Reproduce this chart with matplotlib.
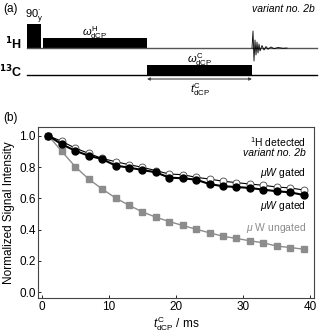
import numpy as np
import matplotlib
matplotlib.use("Agg")
import matplotlib.pyplot as plt
from matplotlib.patches import Rectangle

plt.rcParams['font.family'] = ['Liberation Sans', 'DejaVu Sans']
plt.rcParams['mathtext.fontset'] = 'custom'
plt.rcParams['mathtext.rm'] = 'Liberation Sans'
plt.rcParams['mathtext.it'] = 'Liberation Sans:italic'

# dCP time points / ms
t_dcp = [1, 3, 5, 7, 9, 11, 13, 15, 17, 19, 21, 23, 25, 27, 29, 31, 33, 35, 37, 39]
gated_open = [1.0, 0.964, 0.921, 0.887, 0.855, 0.834, 0.815, 0.798, 0.777, 0.755,
              0.751, 0.734, 0.723, 0.709, 0.700, 0.691, 0.683, 0.672, 0.666, 0.653]
gated_filled = [1.0, 0.945, 0.904, 0.872, 0.851, 0.809, 0.796, 0.781, 0.766, 0.732,
                0.728, 0.719, 0.691, 0.677, 0.672, 0.666, 0.655, 0.645, 0.638, 0.621]
ungated = [1.0, 0.90, 0.802, 0.723, 0.660, 0.602, 0.555, 0.513, 0.479, 0.451,
           0.426, 0.402, 0.379, 0.357, 0.343, 0.328, 0.315, 0.294, 0.285, 0.274]

x_ticks = [0, 10, 20, 30, 40]
y_ticks = [0.0, 0.2, 0.4, 0.6, 0.8, 1.0]

# pulse sequence (schematic units, same scale as picture width)
h_line = 48
c_line = 75
pulse90 = (27, 41, 24)       # start, end, top
h_cp = (43, 147, 38)
c_cp = (147, 252, 65)
fid_x = [252, 253, 254, 255, 256, 257, 258, 259, 260, 262, 264, 266, 268, 271, 274, 278, 283, 287]
fid_y = [0, -17, 13, -8, 7, -6, 5, -4, 3, -2.5, 2, -1.5, 1.2, -1, 0.7, -0.5, 0.3, 0]

fig = plt.figure(figsize=(3.2, 3.35), dpi=100)

# ---- (a) pulse sequence
axa = fig.add_axes([0, 1 - 110 / 335, 1, 110 / 335])
axa.set_xlim(0, 320)
axa.set_ylim(110, 0)
axa.axis('off')

axa.plot([27, 317], [h_line, h_line], color='#555555', lw=1.0)
axa.plot([27, 317], [c_line, c_line], color='black', lw=1.0)
for (x0, x1, top), base in [(pulse90, h_line), (h_cp, h_line), (c_cp, c_line)]:
    axa.add_patch(Rectangle((x0, top), x1 - x0, base - top, color='black', lw=0))
axa.plot(fid_x, np.array(fid_y) + h_line, color='black', lw=0.6)
axa.annotate('', xy=(c_cp[0], 79), xytext=(c_cp[1], 79),
             arrowprops=dict(arrowstyle='<|-|>', color='#444444', lw=0.8,
                             mutation_scale=4, shrinkA=0, shrinkB=0))

axa.text(3, 9, '(a)', fontsize=8.5, va='center', ha='left')
axa.text(315, 9, 'variant no. 2b', fontsize=7.5, style='italic', va='center', ha='right')
axa.text(34, 16, r'90$_{\mathrm{y}}^{\bullet}$', fontsize=8, va='center', ha='center')
axa.text(22, 44, r'$^{\mathbf{1}}$H', fontsize=9, fontweight='bold', va='center', ha='right')
axa.text(22, 72, r'$^{\mathbf{13}}$C', fontsize=9, fontweight='bold', va='center', ha='right')
axa.text(95, 33, r'$\omega^{\mathrm{H}}_{\mathrm{dCP}}$', fontsize=8, va='center', ha='center')
axa.text(200, 60, r'$\omega^{\mathrm{C}}_{\mathrm{dCP}}$', fontsize=8, va='center', ha='center')
axa.text(200, 90, r'$t^{\mathrm{C}}_{\mathrm{dCP}}$', fontsize=8, va='center', ha='center')

# ---- (b) decay curves
ax = fig.add_axes([38.3 / 320, (335 - 298.3) / 335, 276 / 320, 171 / 335])
ax.plot(t_dcp, ungated, color='#8c8c8c', lw=1.0, marker='s', ms=4, mfc='#8c8c8c', mec='#8c8c8c')
ax.plot(t_dcp, gated_open, color='black', lw=0.8, marker='o', ms=5, mfc='white', mec='#444444', mew=0.6)
ax.plot(t_dcp, gated_filled, color='black', lw=1.5, marker='o', ms=5, mfc='black', mec='black')

ax.set_xlim(-0.5, 40.6)
ax.set_ylim(-0.04, 1.054)
ax.set_xticks(x_ticks)
ax.set_yticks(y_ticks)
ax.set_yticklabels(['%.1f' % v for v in y_ticks])
ax.tick_params(direction='in', length=2.5, width=0.6, labelsize=8.5, pad=2)
for s in ax.spines.values():
    s.set_linewidth(0.8)
    s.set_color('#444444')
ax.set_ylabel('Normalized Signal Intensity', fontsize=8.5, labelpad=3)
ax.set_xlabel(r'$t^{\mathrm{C}}_{\mathrm{dCP}}$ / ms', fontsize=8.5, labelpad=1)

ax.text(39.4, 0.962, r'$^{1}$H detected', fontsize=7.5, ha='right', va='center')
ax.text(39.4, 0.887, 'variant no. 2b', fontsize=7.5, style='italic', ha='right', va='center')
ax.text(39.4, 0.763, r'$\mu W$ gated', fontsize=7.5, ha='right', va='center')
ax.text(39.4, 0.552, r'$\mu W$ gated', fontsize=7.5, ha='right', va='center')
ax.text(39.4, 0.407, r'$\mu$ W ungated', fontsize=7.5, ha='right', va='center', color='#8c8c8c')

fig.text(3 / 320, 1 - 118 / 335, '(b)', fontsize=8.5, va='center', ha='left')

fig.savefig('out.png', dpi=100)
